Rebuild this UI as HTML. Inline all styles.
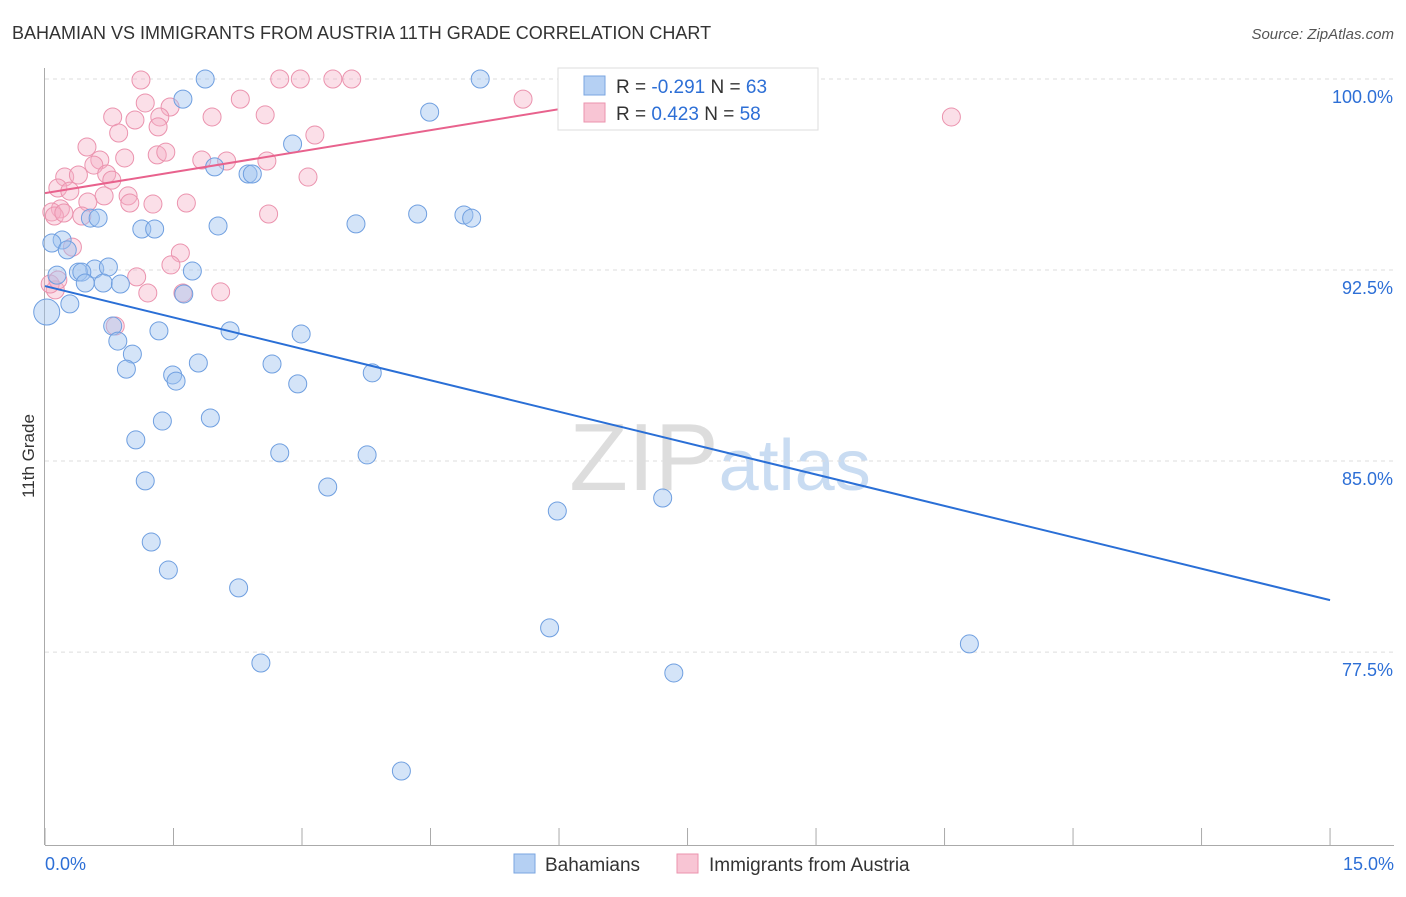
<!DOCTYPE html>
<html><head><meta charset="utf-8"><style>
body{margin:0;background:#fff;font-family:"Liberation Sans",sans-serif;}
svg text{font-family:"Liberation Sans",sans-serif;}
</style></head><body>
<svg id="chart" width="1406" height="892" xmlns="http://www.w3.org/2000/svg">
<text x="12" y="39" font-size="18" fill="#333">BAHAMIAN VS IMMIGRANTS FROM AUSTRIA 11TH GRADE CORRELATION CHART</text>
<text x="1394" y="39" font-size="15" fill="#555" text-anchor="end" font-style="italic">Source: ZipAtlas.com</text>
<text transform="translate(34,456) rotate(-90)" font-size="17" fill="#333" text-anchor="middle">11th Grade</text>
<text x="720" y="490" font-size="96" fill="#ddd" text-anchor="middle" font-family="Liberation Serif">ZIP<tspan fill="#c9dcf2" font-family="Liberation Sans" font-size="72">atlas</tspan></text>
<g id="grid"></g><g id="axes"></g><g id="pts"></g><g id="trends"></g>
<g>
<rect x="558" y="68" width="260" height="62" fill="#fff" stroke="#ddd"/>
<rect x="584" y="76" width="21" height="19" fill="#b5d0f3" stroke="#7aa6e0"/>
<text x="616" y="93" font-size="19" fill="#333">R = <tspan fill="#2d6fd6">-0.291</tspan>   N = <tspan fill="#2d6fd6">63</tspan></text>
<rect x="584" y="103" width="21" height="19" fill="#f8c5d4" stroke="#eb93ae"/>
<text x="616" y="120" font-size="19" fill="#333">R =  <tspan fill="#2d6fd6">0.423</tspan>   N = <tspan fill="#2d6fd6">58</tspan></text>
</g>
<g>
<rect x="514" y="854" width="21" height="19" fill="#b5d0f3" stroke="#7aa6e0"/>
<text x="545" y="871" font-size="19" fill="#333">Bahamians</text>
<rect x="677" y="854" width="21" height="19" fill="#f8c5d4" stroke="#eb93ae"/>
<text x="709" y="871" font-size="19" fill="#333">Immigrants from Austria</text>
</g>
</svg>
<script>
const blueX=[1.87,5.08,7.47,1.61,4.49,2.89,1.98,2.37,2.42,4.35,4.89,4.98,3.63,2.02,1.13,1.28,0.53,0.62,0.20,0.08,0.26,0.58,0.74,0.39,0.43,0.14,1.72,0.47,0.68,0.88,1.62,0.29,0.02,0.79,1.33,2.16,2.99,0.85,1.02,1.79,2.65,0.95,3.82,1.49,1.53,2.95,1.93,1.37,1.06,2.74,3.76,1.17,3.30,7.21,5.98,1.24,1.44,2.26,5.89,10.79,2.52,7.34,4.16];
const blueY=[100,100,100,99.21,98.70,97.45,96.55,96.27,96.27,94.70,94.66,94.54,94.31,94.23,94.11,94.11,94.54,94.54,93.68,93.56,93.29,92.54,92.62,92.42,92.42,92.30,92.46,91.99,91.99,91.95,91.56,91.17,90.85,90.30,90.11,90.11,89.99,89.71,89.20,88.85,88.81,88.61,88.46,88.38,88.14,88.03,86.69,86.57,85.83,85.32,85.24,84.22,83.98,83.55,83.04,81.82,80.72,80.02,78.45,77.82,77.07,76.68,72.83];
const pinkX=[1.12,2.74,2.98,3.36,3.58,8.11,1.17,2.28,5.58,1.46,0.79,1.95,2.57,10.58,1.34,1.05,1.32,0.86,3.15,1.31,1.41,0.49,0.93,0.64,0.57,1.83,2.12,2.59,0.23,0.39,0.72,0.78,3.07,0.15,0.29,0.97,0.69,0.50,0.99,1.26,1.65,0.18,0.08,0.11,0.43,2.61,0.32,1.58,1.47,1.07,1.20,1.61,2.05,0.12,0.82,0.06,0.22,0.15];
const pinkY=[99.96,100,100,100,100,99.96,99.06,99.21,99.21,98.90,98.51,98.51,98.59,98.51,98.51,98.39,98.12,97.88,97.80,97.02,97.13,97.33,96.90,96.82,96.62,96.82,96.78,96.78,96.15,96.23,96.27,96.03,96.15,95.72,95.60,95.41,95.41,95.17,95.13,95.09,95.13,94.90,94.78,94.62,94.62,94.70,93.40,93.17,92.70,92.23,91.60,91.60,91.64,91.72,90.30,91.95,94.74,92.11];
const blueTrend=[91.87,79.54];
const pinkTrend=[95.52,100.04];
const pinkTrendEnd=8.23;
const yTicks=[100,92.5,85,77.5];
const yTickLabels=["100.0%","92.5%","85.0%","77.5%"];
const xTickVals=[0,1.5,3,4.5,6,7.5,9,10.5,12,13.5,15];
const NS="http://www.w3.org/2000/svg";
const xs=v=>45+v*85.67, ys=v=>79+(100-v)*25.47;
function mk(tag,attrs,parent){const e=document.createElementNS(NS,tag);for(const k in attrs)e.setAttribute(k,attrs[k]);parent.appendChild(e);return e;}
const grid=document.getElementById('grid'),axes=document.getElementById('axes'),pts=document.getElementById('pts'),tr=document.getElementById('trends');
yTicks.forEach((t,i)=>{
 const l=mk('line',{x1:45,x2:1394,y1:ys(t),y2:ys(t),stroke:'#ddd','stroke-dasharray':'4,4'},grid);
 
 
 const tx=mk('text',{x:1393,y:ys(t)+24,'font-size':18,fill:'#2d6fd6','text-anchor':'end'},axes);
 tx.textContent=yTickLabels[i];
 
 
});
const ax=mk('line',{x1:44.5,x2:44.5,y1:68,y2:845,stroke:'#aaa'},axes);


const bx=mk('line',{x1:45,x2:1394,y1:845.5,y2:845.5,stroke:'#aaa'},axes);


xTickVals.forEach(t=>{const l=mk('line',{x1:xs(t),x2:xs(t),y1:828,y2:845,stroke:'#aaa'},axes);
 
 });
const x0=mk('text',{x:45,y:870,'font-size':18,fill:'#2d6fd6'},axes);x0.textContent='0.0%';


const x1=mk('text',{x:1394,y:870,'font-size':18,fill:'#2d6fd6','text-anchor':'end'},axes);x1.textContent='15.0%';


pinkX.forEach((v,i)=>{const c=mk('circle',{cx:xs(v),cy:ys(pinkY[i]),r:9,fill:'rgba(245,175,198,0.4)',stroke:'#eb93ae','stroke-width':1},pts);
 
 });
blueX.forEach((v,i)=>{const c=mk('circle',{cx:xs(v),cy:ys(blueY[i]),r:(i===32?13:9),fill:'rgba(160,195,240,0.45)',stroke:'#6f9fe0','stroke-width':1},pts);
 
 });
const bl=mk('line',{x1:xs(0),y1:ys(blueTrend[0]),x2:xs(15),y2:ys(blueTrend[1]),stroke:'#2a6fd6','stroke-width':2},tr);


const pl=mk('line',{x1:xs(0),y1:ys(pinkTrend[0]),x2:xs(pinkTrendEnd),y2:ys(pinkTrend[1]),stroke:'#e8628d','stroke-width':2},tr);


</script>
</body></html>
